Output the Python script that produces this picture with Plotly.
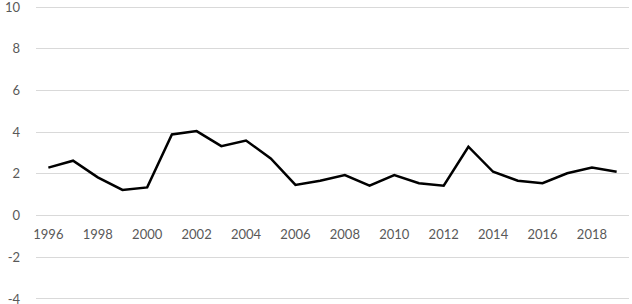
import plotly.graph_objects as go

years = list(range(1996, 2020))
values = [2.3, 2.63, 1.83, 1.23, 1.35, 3.89, 4.05, 3.33, 3.6, 2.74,
          1.47, 1.67, 1.94, 1.43, 1.94, 1.55, 1.43, 3.3, 2.1, 1.67,
          1.55, 2.03, 2.3, 2.1]
x_ticks = list(range(1996, 2020, 2))
y_ticks = [-4, -2, 0, 2, 4, 6, 8, 10]
y_labels = ["-4", "-2", "0", "2", "4", "6", "8", "10"]

y_min, y_max = -4.05, 10.05

fig = go.Figure()
fig.add_trace(go.Scatter(x=years, y=values, mode="lines",
                         line=dict(color="black", width=2.5), showlegend=False))

fig.update_layout(
    width=632, height=304,
    margin=dict(l=36, r=3, t=6, b=4),
    paper_bgcolor="white", plot_bgcolor="white",
    font=dict(family="Lato, Open Sans, sans-serif", size=13, color="#595959"),
    xaxis=dict(
        range=[1995.5, 2019.5], tickvals=x_ticks, ticktext=[str(v) for v in x_ticks],
        showgrid=False, zeroline=False, showline=False,
        anchor="free", position=(0 - y_min) / (y_max - y_min),
        ticks="", ticklabelstandoff=9, automargin=False,
    ),
    yaxis=dict(
        range=[y_min, y_max], tickvals=y_ticks, ticktext=y_labels,
        showgrid=True, gridcolor="#d9d9d9", gridwidth=1,
        zeroline=False, showline=False, ticks="", ticklabelstandoff=15,
        ticklabeloverflow="allow", automargin=False,
    ),
)

fig.write_html("out.html", config={"displayModeBar": False},
               post_script="document.body.style.margin='0';")
